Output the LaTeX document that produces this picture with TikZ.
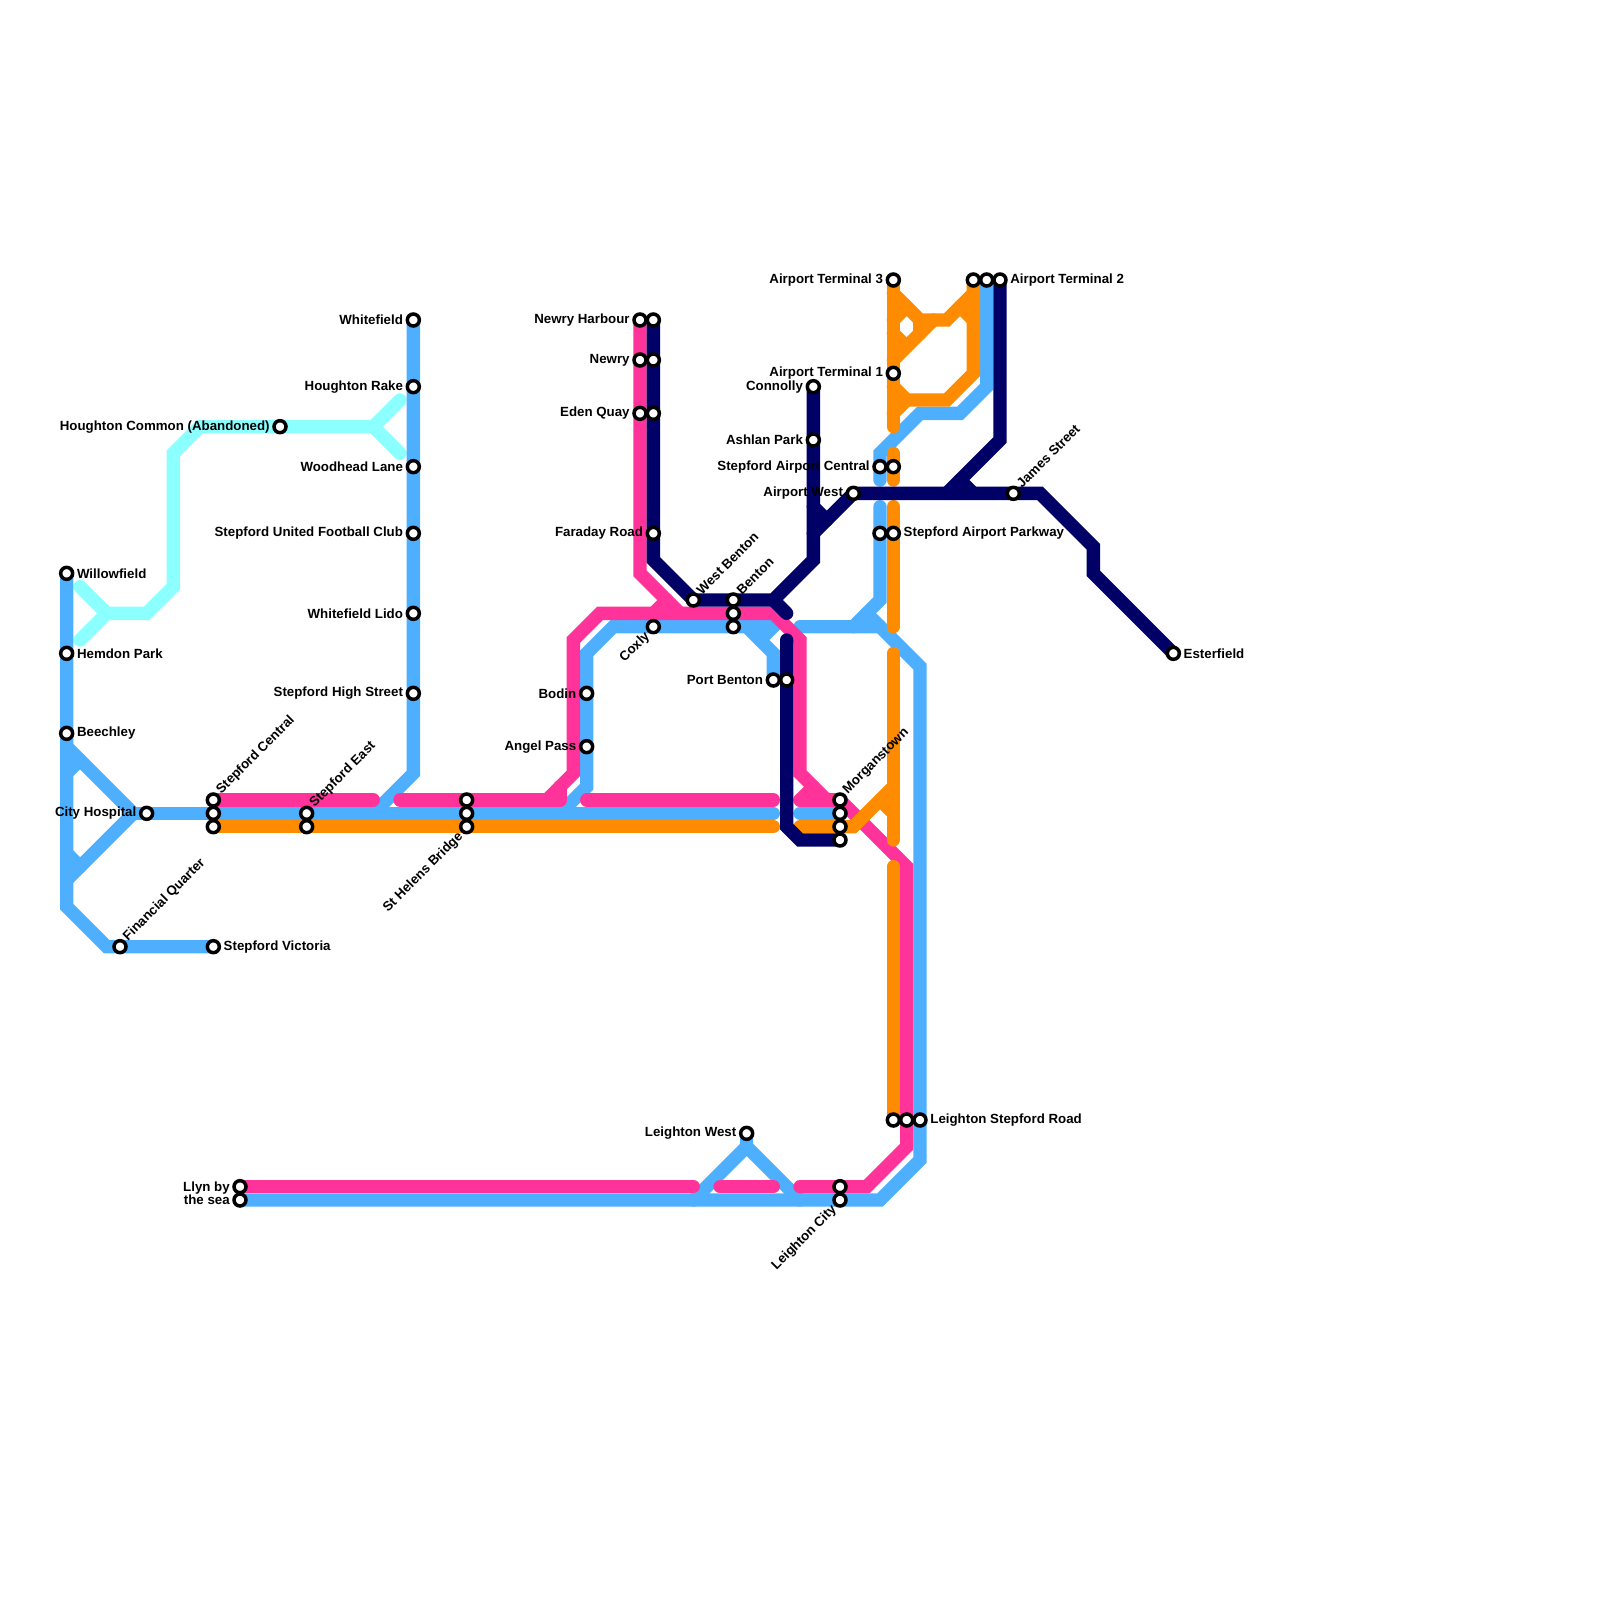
\documentclass[tikz,border=0pt]{standalone}
\usepackage{fontspec}
\setmainfont{Liberation Sans}
\usetikzlibrary{backgrounds}
\definecolor{lineblue}{HTML}{4FAFFF}
\definecolor{linepink}{HTML}{FF3399}
\definecolor{lineorange}{HTML}{FF8C00}
\definecolor{linenavy}{HTML}{000066}
\definecolor{linecyan}{HTML}{8CFFFF}
\tikzstyle{station} = [circle, draw=black, fill=white, line width=0.105cm, minimum size=0.36cm, inner sep=0pt]
\tikzstyle{lbltext} = [font=\bfseries\fontsize{11.35}{11.4}\selectfont, inner sep=0pt, text=black]
\tikzstyle{lblne} = [lbltext, rotate=45, anchor=west]
\tikzstyle{lblsw} = [lbltext, rotate=45, anchor=east]
\tikzstyle{line} = [draw, line width=0.4cm, line cap=round, line join=miter]
\tikzstyle{cyanl} = [line, linecyan]
\tikzstyle{bluel} = [line, lineblue]
\tikzstyle{pinkl} = [line, linepink]
\tikzstyle{orangel} = [line, lineorange]
\tikzstyle{navyl} = [line, linenavy]

\begin{document}
\begin{tikzpicture}[x=0.4cm, y=-0.4cm, label distance=0.072cm, every label/.style={lbltext}]
    \useasboundingbox (0,0) rectangle (120,120);
    % Stations
    \node [station, label={[lbltext]0:Willowfield}] (willowfield) at (5,43) {};
    \node [station, label={[lbltext]0:Hemdon Park}] (hemdon) at (5,49) {};
    \node [station, label={[lbltext]0:Beechley}] (beechley) at (5,55) {};
    \node [station, label={[lbltext]180:City Hospital}] (cityhosp) at (11,61) {};
    \node [station, label={[lblne]45:Financial Quarter}] (finquarter) at (9,71) {};
    \node [station, label={[lbltext]0:Stepford Victoria}] (victoria) at (16,71) {};
    \node [station, label={[lblne]45:Stepford Central}] (stepcentP) at (16,60) {};
    \node [station] (stepcentB) at (16,61) {};
    \node [station] (stepcentO) at (16,62) {};
    \node [station, label={[lblne]45:Stepford East}] (stepeastB) at (23,61) {};
    \node [station] (stepeastO) at (23,62) {};
    \node [station] (helensP) at (35,60) {};
    \node [station] (helensB) at (35,61) {};
    \node [station, label={[lblsw]225:St Helens Bridge}] (helensO) at (35,62) {};
    \node [station, label={[lbltext]180:Houghton Common (Abandoned)}] (common) at (21,32) {};
    \node [station, label={[lbltext]180:Whitefield}] (whitefield) at (31,24) {};
    \node [station, label={[lbltext]180:Houghton Rake}] (houghton) at (31,29) {};
    \node [station, label={[lbltext]180:Woodhead Lane}] (woodhead) at (31,35) {};
    \node [station, label={[lbltext]180:Stepford United Football Club}] (united) at (31,40) {};
    \node [station, label={[lbltext]180:Whitefield Lido}] (lido) at (31,46) {};
    \node [station, label={[lbltext]180:Stepford High Street}] (highst) at (31,52) {};
    \node [station, label={[lbltext]180:Newry Harbour}] (harbourP) at (48,24) {};
    \node [station] (harbourN) at (49,24) {};
    \node [station, label={[lbltext]180:Newry}] (newryP) at (48,27) {};
    \node [station] (newryN) at (49,27) {};
    \node [station, label={[lbltext]180:Eden Quay}] (edenP) at (48,31) {};
    \node [station] (edenN) at (49,31) {};
    \node [station, label={[lbltext]180:Faraday Road}] (faraday) at (49,40) {};
    \node [station, label={[lblne]45:West Benton}] (westbenton) at (52,45) {};
    \node [station, label={[lblne]45:Benton}] (bentonN) at (55,45) {};
    \node [station] (bentonP) at (55,46) {};
    \node [station] (bentonB) at (55,47) {};
    \node [station, label={[lblsw]225:Coxly}] (coxly) at (49,47) {};
    \node [station, label={[lbltext]180:Bodin}] (bodin) at (44,52) {};
    \node [station, label={[lbltext]180:Angel Pass}] (angel) at (44,56) {};
    \node [station, label={[lbltext]180:Port Benton}] (portB) at (58,51) {};
    \node [station] (portN) at (59,51) {};
    \node [station, label={[lbltext]180:Connolly}] (connolly) at (61,29) {};
    \node [station, label={[lbltext]180:Ashlan Park}] (ashlan) at (61,33) {};
    \node [station, label={[lbltext]180:Airport West}] (airwest) at (64,37) {};
    \node [station, label={[lbltext]180:Stepford Airport Central}] (aircentB) at (66,35) {};
    \node [station] (aircentO) at (67,35) {};
    \node [station] (parkwayB) at (66,40) {};
    \node [station, label={[lbltext]0:Stepford Airport Parkway}] (parkwayO) at (67,40) {};
    \node [station, label={[lbltext]180:Airport Terminal 3}] (term3) at (67,21) {};
    \node [station, label={[lbltext]180:Airport Terminal 1}] (term1) at (67,28) {};
    \node [station] (term2O) at (73,21) {};
    \node [station] (term2B) at (74,21) {};
    \node [station, label={[lbltext]0:Airport Terminal 2}] (term2N) at (75,21) {};
    \node [station, label={[lblne]45:James Street}] (james) at (76,37) {};
    \node [station, label={[lbltext]0:Esterfield}] (esterfield) at (88,49) {};
    \node [station, label={[lblne]45:Morganstown}] (morganP) at (63,60) {};
    \node [station] (morganB) at (63,61) {};
    \node [station] (morganO) at (63,62) {};
    \node [station] (morganN) at (63,63) {};
    \node [station] (leightonO) at (67,84) {};
    \node [station] (leightonP) at (68,84) {};
    \node [station, label={[lbltext]0:Leighton Stepford Road}] (leightonB) at (69,84) {};
    \node [station, label={[lbltext]180:Leighton West}] (leightonwest) at (56,85) {};
    \node [station] (cityP) at (63,89) {};
    \node [station, label={[lblsw]225:Leighton City}] (cityB) at (63,90) {};
    \node [station] (llynP) at (18,89) {};
    \node [station] (llynB) at (18,90) {};
    \node [lbltext, align=right, anchor=east] (llynname) at (17.25,89.5) {Llyn by\\the sea};

    % Free line ends
    \coordinate (cyanA) at (6,44);
    \coordinate (cyanB) at (6,48);
    \coordinate (cyanfork) at (8,46);
    \coordinate (cyanC) at (28,32);
    \coordinate (cyanD) at (30,30);
    \coordinate (cyanE) at (30,34);
    \coordinate (triTop) at (5,56);
    \coordinate (triTip) at (10,61);
    \coordinate (triLow) at (5,66);
    \coordinate (triStubA) at (5,58);
    \coordinate (triStubB) at (6,57);
    \coordinate (triStubC) at (5,64);
    \coordinate (triStubD) at (6,65);
    \coordinate (blueEast) at (58,61);
    \coordinate (blueSlip) at (28,61);
    \coordinate (blueAngel) at (42,61);
    \coordinate (blueTop) at (58,47);
    \coordinate (blueTopStub) at (57,48);
    \coordinate (bluePortFork) at (56,47);
    \coordinate (blueAirA) at (60,47);
    \coordinate (blueAirB) at (66,47);
    \coordinate (blueAirC) at (66,38);
    \coordinate (blueAirD) at (64,47);
    \coordinate (blueAirStub) at (65,46);
    \coordinate (blueAirE) at (66,36);
    \coordinate (blueMorgan) at (60,61);
    \coordinate (triLeft) at (52,90);
    \coordinate (triRight) at (60,90);
    \coordinate (triApex) at (56,86);
    \coordinate (pinkA) at (28,60);
    \coordinate (pinkB) at (30,60);
    \coordinate (pinkC) at (42,60);
    \coordinate (pinkCstub) at (42,59);
    \coordinate (pinkD) at (41,60);
    \coordinate (pinkE) at (44,60);
    \coordinate (pinkF) at (58,60);
    \coordinate (pinkG) at (60,60);
    \coordinate (pinkGstub) at (61,59);
    \coordinate (pinkH) at (60,89);
    \coordinate (pinkI) at (54,89);
    \coordinate (pinkJ) at (58,89);
    \coordinate (pinkK) at (52,89);
    \coordinate (pinkL) at (51,46);
    \coordinate (pinkLa) at (49,46);
    \coordinate (pinkLb) at (50,45);
    \coordinate (orangeA) at (58,62);
    \coordinate (orangeB) at (60,62);
    \coordinate (orangeC) at (67,59);
    \coordinate (orangeD) at (67,32);
    \coordinate (orangeE) at (67,22);
    \coordinate (orangeF) at (73,22);
    \coordinate (orangeG) at (67,27);
    \coordinate (orangeH) at (70,24);
    \coordinate (orangeI) at (67,29);
    \coordinate (orangeJ) at (67,31);
    \coordinate (orangeK) at (68,30);
    \coordinate (orangeS1) at (67,24);
    \coordinate (orangeS2) at (68,23);
    \coordinate (orangeS3) at (67,25);
    \coordinate (orangeS4) at (68,26);
    \coordinate (orangeS5) at (69,24);
    \coordinate (orangeS6) at (69,25);
    \coordinate (orangeS7) at (72,23);
    \coordinate (orangeS8) at (73,24);
    \coordinate (orangeS9) at (66,60);
    \coordinate (orangeS10) at (67,61);
    \coordinate (orangeM) at (67,34);
    \coordinate (orangeN) at (67,36);
    \coordinate (orangeO) at (67,38);
    \coordinate (orangeP) at (67,47);
    \coordinate (orangeQ) at (67,49);
    \coordinate (orangeR) at (67,63);
    \coordinate (orangeT) at (67,65);
    \coordinate (navyA) at (58,45);
    \coordinate (navyB) at (59,46);
    \coordinate (navyC) at (59,48);
    \coordinate (navyD) at (61,40);
    \coordinate (navyE) at (61,38);
    \coordinate (navyF) at (62,39);
    \coordinate (navyG) at (71,37);
    \coordinate (navyH) at (72,36);
    \coordinate (navyI) at (73,37);

    % Lines
    \begin{scope}[on background layer]
        \path [cyanl] (cyanA) -- (cyanfork) -- (11,46) -- (13,44) -- (13,34) -- (15,32) -- (common.center) -- (cyanC) -- (cyanD);
        \path [cyanl] (cyanB) -- (cyanfork);
        \path [cyanl] (cyanC) -- (cyanE);

        \path [bluel] (willowfield.center) -- (hemdon.center) -- (beechley.center) -- (5,68) -- (8,71) -- (finquarter.center) -- (victoria.center);
        \path [bluel] (triTop) -- (triTip) -- (triLow);
        \path [bluel] (triStubA) -- (triStubB);
        \path [bluel] (triStubC) -- (triStubD);
        \path [bluel] (triTip) -- (cityhosp.center) -- (stepcentB.center) -- (stepeastB.center) -- (helensB.center) -- (blueEast);
        \path [bluel] (whitefield.center) -- (highst.center) -- (31,58) -- (blueSlip);
        \path [bluel] (blueAngel) -- (44,59) -- (angel.center) -- (bodin.center) -- (44,49) -- (46,47) -- (coxly.center) -- (bentonB.center) -- (blueTop) -- (blueTopStub);
        \path [bluel] (bluePortFork) -- (58,49) -- (portB.center);
        \path [bluel] (blueAirA) -- (blueAirB) -- (69,50) -- (leightonB.center) -- (69,87) -- (66,90) -- (cityB.center) -- (llynB.center);
        \path [bluel] (blueAirC) -- (parkwayB.center) -- (66,45) -- (blueAirD);
        \path [bluel] (blueAirStub) -- (blueAirB);
        \path [bluel] (term2B.center) -- (74,29) -- (72,31) -- (69,31) -- (66,34) -- (aircentB.center) -- (blueAirE);
        \path [bluel] (blueMorgan) -- (morganB.center);
        \path [bluel] (triLeft) -- (triApex) -- (triRight);
        \path [bluel] (leightonwest.center) -- (triApex);

        \path [pinkl] (stepcentP.center) -- (pinkA);
        \path [pinkl] (pinkB) -- (helensP.center) -- (pinkC);
        \path [pinkl] (pinkCstub) -- (pinkC);
        \path [pinkl] (pinkD) -- (43,58) -- (43,48) -- (45,46) -- (bentonP.center) -- (58,46) -- (60,48) -- (60,58) -- (62,60) -- (morganP.center) -- (68,65) -- (leightonP.center) -- (68,86) -- (65,89) -- (cityP.center) -- (pinkH);
        \path [pinkl] (pinkE) -- (pinkF);
        \path [pinkl] (pinkG) -- (morganP.center);
        \path [pinkl] (pinkG) -- (pinkGstub);
        \path [pinkl] (pinkI) -- (pinkJ);
        \path [pinkl] (llynP.center) -- (pinkK);
        \path [pinkl] (harbourP.center) -- (newryP.center) -- (edenP.center) -- (48,43) -- (pinkL);
        \path [pinkl] (pinkLa) -- (pinkLb);

        \path [orangel] (stepcentO.center) -- (stepeastO.center) -- (helensO.center) -- (orangeA);
        \path [orangel] (orangeB) -- (morganO.center) -- (64,62) -- (orangeC);
        \path [orangel] (term3.center) -- (term1.center) -- (orangeD);
        \path [orangel] (orangeE) -- (69,24) -- (71,24) -- (orangeF);
        \path [orangel] (orangeG) -- (orangeH);
        \path [orangel] (term2O.center) -- (73,28) -- (71,30) -- (orangeK) -- (orangeI);
        \path [orangel] (orangeJ) -- (orangeK);
        \path [orangel] (orangeS1) -- (orangeS2);
        \path [orangel] (orangeS3) -- (orangeS4);
        \path [orangel] (orangeS5) -- (orangeS6);
        \path [orangel] (orangeS7) -- (orangeS8);
        \path [orangel] (orangeS9) -- (orangeS10);
        \path [orangel] (orangeM) -- (aircentO.center) -- (orangeN);
        \path [orangel] (orangeO) -- (parkwayO.center) -- (orangeP);
        \path [orangel] (orangeQ) -- (orangeR);
        \path [orangel] (orangeT) -- (leightonO.center);

        \path [navyl] (harbourN.center) -- (newryN.center) -- (edenN.center) -- (faraday.center) -- (49,42) -- (westbenton.center) -- (bentonN.center) -- (navyA) -- (61,42) -- (ashlan.center) -- (connolly.center);
        \path [navyl] (navyA) -- (navyB);
        \path [navyl] (navyC) -- (portN.center) -- (59,62) -- (60,63) -- (morganN.center);
        \path [navyl] (navyD) -- (airwest.center) -- (james.center) -- (78,37) -- (82,41) -- (82,43) -- (esterfield.center);
        \path [navyl] (navyE) -- (navyF);
        \path [navyl] (term2N.center) -- (75,33) -- (navyG);
        \path [navyl] (navyH) -- (navyI);
    \end{scope}
\end{tikzpicture}
\end{document}
